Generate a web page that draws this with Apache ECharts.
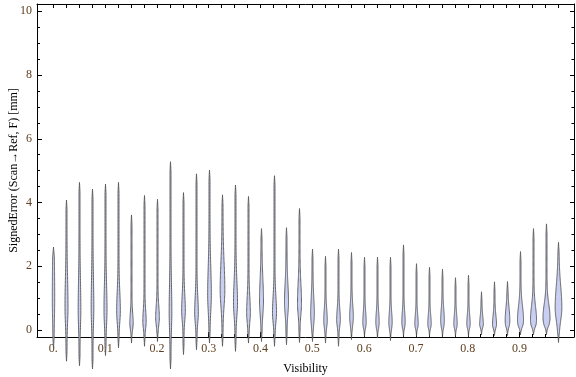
<!DOCTYPE html>
<html>
<head>
<meta charset="utf-8">
<script src="https://cdn.jsdelivr.net/npm/echarts@6/dist/echarts.min.js"></script>
<style>
  html, body { margin: 0; padding: 0; background: #fff; }
  #chart { width: 576px; height: 377px; }
</style>
</head>
<body>
<div id="chart"></div>
<script>
// violin positions on the Visibility axis
let visibility = [0, 0.025, 0.05, 0.075, 0.1, 0.125, 0.15, 0.175, 0.2, 0.225,
                  0.25, 0.275, 0.3, 0.325, 0.35, 0.375, 0.4, 0.425, 0.45, 0.475,
                  0.5, 0.525, 0.55, 0.575, 0.6, 0.625, 0.65, 0.675, 0.7, 0.725,
                  0.75, 0.775, 0.8, 0.825, 0.85, 0.875, 0.9, 0.925, 0.95, 0.975];
// min / max of each distribution (mm)
let lows  = [-0.56, -0.98, -1.12, -1.22, -0.8, -0.56, -0.41, -0.51, -0.36, -1.22,
             -0.77, -0.62, -0.41, -0.51, -0.67, -0.41, -0.36, -0.51, -0.46, -0.39,
             -0.36, -0.41, -0.51, -0.3, -0.2, -0.25, -0.33, -0.2, -0.2, -0.2,
             -0.22, -0.2, -0.2, -0.15, -0.17, -0.17, -0.15, -0.15, -0.15, -0.39];
let highs = [2.6, 4.08, 4.63, 4.42, 4.58, 4.63, 3.61, 4.22, 4.1, 5.28,
             4.31, 4.9, 5.02, 4.24, 4.55, 4.19, 3.18, 4.84, 3.21, 3.81,
             2.54, 2.31, 2.54, 2.43, 2.28, 2.29, 2.28, 2.67, 2.08, 1.97,
             1.91, 1.64, 1.72, 1.2, 1.51, 1.52, 2.46, 3.18, 3.33, 2.75];
// where the density peaks, how spread it is, and how big the peak is
let modes   = [1.0, 0.74, 0.64, 0.7, 0.64, 0.6, 0.22, 0.27, 0.38, 0.55,
               0.6, 0.54, 1.1, 1.26, 0.85, 0.54, 0.9, 0.54, 0.85, 0.85,
               0.5, 0.3, 0.32, 0.4, 0.25, 0.25, 0.24, 0.26, 0.2, 0.2,
               0.3, 0.2, 0.2, 0.17, 0.17, 0.3, 0.32, 0.32, 0.38, 0.7];
let spreads = [0.7, 0.5, 0.5, 0.5, 0.45, 0.35, 0.18, 0.2, 0.22, 0.5,
               0.3, 0.3, 0.5, 0.5, 0.4, 0.3, 0.4, 0.3, 0.35, 0.35,
               0.3, 0.2, 0.2, 0.22, 0.18, 0.18, 0.18, 0.18, 0.16, 0.16,
               0.2, 0.16, 0.16, 0.15, 0.17, 0.22, 0.25, 0.25, 0.25, 0.4];
let peaks   = [2.7, 4, 3.3, 3.3, 4, 5.3, 4.7, 4.7, 5.3, 3.3,
               5.3, 5.3, 5.3, 7.3, 6, 5.3, 6, 6, 6, 6,
               5.3, 5, 5.3, 5.3, 4.7, 4.7, 4.7, 4.7, 4.7, 4.7,
               5.3, 4.7, 4.7, 5.3, 6, 7.3, 10, 10, 12, 11.3];

let xTicks = [0, 0.1, 0.2, 0.3, 0.4, 0.5, 0.6, 0.7, 0.8, 0.9];
let yTicks = [0, 2, 4, 6, 8, 10];
let yMinor = [0.5, 1, 1.5, 2.5, 3, 3.5, 4.5, 5, 5.5, 6.5, 7, 7.5, 8.5, 9, 9.5, 10];

let X_MIN = -0.0315, X_MAX = 1.005;
let Y_MIN = -0.22, Y_MAX = 10.23;
let font = "'Liberation Serif', 'DejaVu Serif', serif";

let data = [];
for (let i = 0; i < visibility.length; i++) {
    data.push([visibility[i], lows[i], highs[i], modes[i], spreads[i], peaks[i]]);
}

// width of one density unit, in x-axis units
let densityScale = 0.00097;

function renderViolin(params, api) {
    let x = api.value(0), lo = api.value(1), hi = api.value(2);
    let md = api.value(3), sp = api.value(4), pk = api.value(5);
    let unit = api.size([densityScale, 0])[0];
    let c0 = api.coord([x, 0]);
    let cx = Math.round(c0[0]) + 0.5;
    let n = 60;
    let left = [], right = [];
    for (let k = 0; k <= n; k++) {
        let y = lo + (hi - lo) * k / n;
        let s = y < md ? sp : sp * 1.7;
        let d = (y - md) / s;
        let h = 0.5 + pk * unit * 0.5 * Math.exp(-0.5 * d * d);
        let t = Math.min(1, (y - lo) / 0.3, (hi - y) / 0.3);
        h = h * Math.max(0, t);
        let c = api.coord([x, y]);
        left.push([cx - h, c[1]]);
        right.unshift([cx + h, c[1]]);
    }
    return {
        type: 'polygon',
        shape: { points: left.concat(right), smooth: 0.2 },
        style: { fill: '#c9cff2', stroke: '#555', lineWidth: 0.9 }
    };
}

function makeX(position, ticks, len, showLabel, showLine, extra) {
    let ax = {
        type: 'value', position: position, min: X_MIN, max: X_MAX,
        splitLine: { show: false },
        axisLine: { show: showLine, onZero: false, lineStyle: { color: '#000', width: 1 } },
        axisTick: { show: true, inside: true, length: len, customValues: ticks,
                    lineStyle: { color: '#000', width: 1 } },
        axisLabel: { show: showLabel }
    };
    return Object.assign(ax, extra || {});
}
function makeY(position, ticks, len, showLabel, showLine, extra) {
    let ax = {
        type: 'value', position: position, min: Y_MIN, max: Y_MAX,
        splitLine: { show: false },
        axisLine: { show: showLine, onZero: false, lineStyle: { color: '#000', width: 1 } },
        axisTick: { show: true, inside: true, length: len, customValues: ticks,
                    lineStyle: { color: '#000', width: 1 } },
        axisLabel: { show: showLabel }
    };
    return Object.assign(ax, extra || {});
}

let xMinor = visibility.filter(v => xTicks.indexOf(v) < 0);

let chart = echarts.init(document.getElementById('chart'), null, { renderer: 'canvas' });
let option = {
    animation: false,
    backgroundColor: '#fff',
    grid: { left: 37, right: 2, top: 4, bottom: 40, outerBoundsMode: 'none' },
    xAxis: [
        makeX('bottom', xTicks, 5, true, true, {
            name: 'Visibility', nameLocation: 'middle', nameGap: 26, nameMoveOverlap: false,
            nameTextStyle: { fontFamily: font, fontSize: 12, color: '#000' },
            axisLabel: {
                show: true, customValues: xTicks, margin: 6,
                fontFamily: font, fontSize: 12, color: '#5c4020',
                formatter: v => (v === 0 ? '0.' : v.toFixed(1))
            }
        }),
        makeX('bottom', xMinor, 3, false, false),
        makeX('top', visibility, 4, false, true)
    ],
    yAxis: [
        makeY('left', yTicks, 5, true, true, {
            name: 'SignedError (Scan\u2192Ref, F) [mm]', nameLocation: 'middle', nameGap: 17,
            nameMoveOverlap: false,
            nameTextStyle: { fontFamily: font, fontSize: 12, color: '#000' },
            axisLabel: {
                show: true, customValues: yTicks, margin: 5,
                fontFamily: font, fontSize: 12, color: '#5c4020',
                formatter: v => String(Math.round(v))
            }
        }),
        makeY('left', yMinor, 3, false, false),
        makeY('right', yTicks, 4, false, true),
        makeY('right', yMinor, 2.5, false, false)
    ],
    series: [{
        type: 'custom',
        xAxisIndex: 0,
        yAxisIndex: 0,
        clip: false,
        renderItem: renderViolin,
        encode: { x: 0, y: [1, 2] },
        data: data
    }]
};
chart.setOption(option);
</script>
</body>
</html>
